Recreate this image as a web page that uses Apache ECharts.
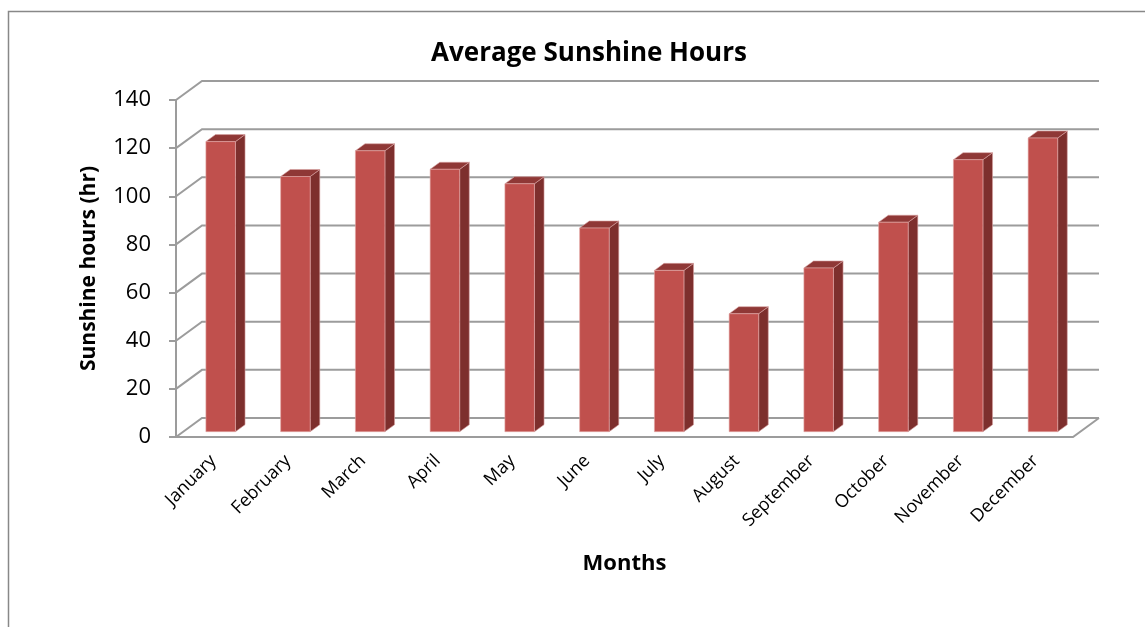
<!DOCTYPE html>
<html lang="en">
<head>
    <meta charset="UTF-8">
    <title>Average Sunshine Hours</title>
    <script src="https://cdn.jsdelivr.net/npm/echarts@6/dist/echarts.min.js"></script>
    <style type="text/css">
        html, body { height: 100%; margin: 0; background: #fff; }
        #main { width: 1145px; height: 627px; margin: 0; }
    </style>
</head>
<body>
    <div id="main"></div>
    <script type="text/javascript">
        // data
        var months = ['January', 'February', 'March', 'April', 'May', 'June',
                      'July', 'August', 'September', 'October', 'November', 'December'];
        var sunshine = [120.5, 106, 116.7, 109, 103, 84.6, 67, 49, 68, 87, 113, 122];
        var yTicks = [0, 20, 40, 60, 80, 100, 120, 140];

        // 3d look: depth offset of back wall, bar depth range
        var DX = 26, DY = -19;
        var F0 = 0.28, F1 = 0.65;
        var FONT = '"Open Sans", "Noto Sans", sans-serif';
        var GRID_COLOR = '#9c9c9c';

        var chart = echarts.init(document.getElementById('main'));

        function renderWalls(params, api) {
            var cs = params.coordSys;
            var v = api.value(1);
            var y = api.coord([0, v])[1];
            var x0 = cs.x, x1 = cs.x + cs.width;
            var style = { stroke: GRID_COLOR, lineWidth: 2, fill: null };
            var kids = [{
                type: 'polyline',
                shape: { points: [[x0, y], [x0 + DX, y + DY], [x1 + DX, y + DY]] },
                style: style
            }];
            if (v === 0) {
                kids.push({
                    type: 'polyline',
                    shape: { points: [[x0, y], [x1, y], [x1 + DX, y + DY]] },
                    style: style
                });
            }
            return { type: 'group', children: kids };
        }

        function renderBar(params, api) {
            var i = api.value(0), v = api.value(1);
            var top = api.coord([i, v]);
            var base = api.coord([i, 0]);
            var slot = api.size([1, 0])[0];
            var w = slot * 0.395;
            var xl = top[0] - w / 2 + F0 * DX, xr = xl + w;
            var yt = top[1] + F0 * DY, yb = base[1] + F0 * DY;
            var ddx = (F1 - F0) * DX, ddy = (F1 - F0) * DY;
            return {
                type: 'group',
                children: [{
                    type: 'polygon',
                    shape: { points: [[xr, yt], [xr + ddx, yt + ddy], [xr + ddx, yb + ddy], [xr, yb]] },
                    style: { fill: '#7d2f2d', stroke: '#d9a3a2', lineWidth: 0.6 }
                }, {
                    type: 'polygon',
                    shape: { points: [[xl, yt], [xr, yt], [xr + ddx, yt + ddy], [xl + ddx, yt + ddy]] },
                    style: { fill: '#8f3836', stroke: '#d9a3a2', lineWidth: 0.6 }
                }, {
                    type: 'rect',
                    shape: { x: xl, y: yt, width: w, height: yb - yt },
                    style: { fill: '#c0504d', stroke: '#e2a9a7', lineWidth: 0.6 }
                }]
            };
        }

        var option = {
            backgroundColor: '#fff',
            animation: false,
            title: {
                text: 'Average Sunshine Hours',
                left: 584,
                textAlign: 'center',
                top: 36,
                textStyle: { fontFamily: FONT, fontSize: 26, fontWeight: 'bold', color: '#000' }
            },
            graphic: [{
                type: 'rect',
                shape: { x: 8.5, y: 11.5, width: 2000, height: 2000 },
                style: { fill: null, stroke: '#888', lineWidth: 1.5 },
                silent: true
            }],
            grid: { left: 176, top: 100, width: 897, height: 337, containLabel: false },
            xAxis: {
                type: 'category',
                data: months,
                name: 'Months',
                nameLocation: 'middle',
                nameGap: 116,
                nameTextStyle: { fontFamily: FONT, fontSize: 22, fontWeight: 'bold', color: '#000' },
                axisLine: { show: false },
                axisTick: { show: false },
                axisLabel: {
                    rotate: 45,
                    interval: 0,
                    margin: 21,
                    fontFamily: FONT,
                    fontSize: 18,
                    color: '#000'
                },
                splitLine: { show: false }
            },
            yAxis: {
                type: 'value',
                min: 0,
                max: 140,
                interval: 20,
                name: 'Sunshine hours (hr)',
                nameLocation: 'middle',
                nameGap: 76,
                nameRotate: 90,
                nameTextStyle: { fontFamily: FONT, fontSize: 21, fontWeight: 'bold', color: '#000' },
                axisLine: { show: true, lineStyle: { color: GRID_COLOR, width: 2 } },
                axisTick: { show: true, length: 7, lineStyle: { color: GRID_COLOR, width: 2 } },
                axisLabel: { margin: 25, fontFamily: FONT, fontSize: 22, color: '#000' },
                splitLine: { show: false }
            },
            series: [{
                type: 'custom',
                renderItem: renderWalls,
                data: yTicks.map(function (v) { return [0, v]; }),
                silent: true,
                z: 1
            }, {
                type: 'custom',
                renderItem: renderBar,
                data: sunshine.map(function (v, i) { return [i, v]; }),
                z: 2
            }]
        };

        chart.setOption(option);
    </script>
</body>
</html>
